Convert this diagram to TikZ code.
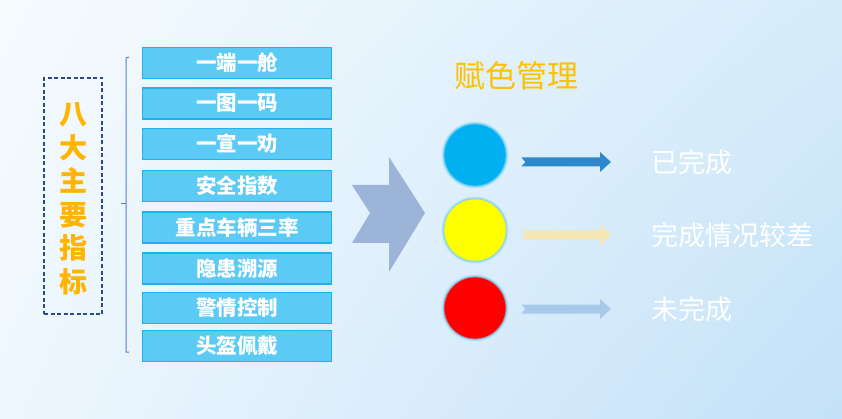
\documentclass[tikz,border=0pt]{standalone}
\usepackage{fontspec}
\setmainfont{Liberation Sans}
\newfontfamily\cjk{Noto Sans CJK SC}
\usetikzlibrary{calc,shadings}
\definecolor{bgTL}{HTML}{F6FBFE}
\definecolor{bgTR}{HTML}{D6ECFA}
\definecolor{bgBL}{HTML}{EEF7FE}
\definecolor{bgBR}{HTML}{C3E1F8}
\definecolor{boxfill}{HTML}{5BCBF5}
\definecolor{boxline}{HTML}{1CB2F0}
\definecolor{bracecol}{HTML}{5A7CC8}
\definecolor{dashcol}{HTML}{2C4A86}
\definecolor{orange}{HTML}{FFB400}
\definecolor{titleor}{HTML}{FFC000}
\definecolor{chev}{HTML}{9BB4D7}
\definecolor{cblue}{HTML}{00B0F0}
\definecolor{cyellow}{HTML}{FFFF00}
\definecolor{cred}{HTML}{FF0000}
\definecolor{glow}{HTML}{7FD3F6}
\definecolor{arblue}{HTML}{2F88CB}
\definecolor{aryellow}{HTML}{F5E6B4}
\definecolor{arlight}{HTML}{A8C9E9}
\tikzset{
  itembox/.style={draw=boxline, line width=1.2pt, fill=boxfill, minimum width=189pt, minimum height=31pt, inner sep=0pt,
    font=\cjk\bfseries\fontsize{20.5}{20.5}\selectfont, text=white},
  dot/.style={circle, minimum size=63pt, inner sep=0pt},
  lbl/.style={anchor=west, font=\cjk\fontsize{27}{27}\selectfont, text=white, inner sep=0pt},
}
\begin{document}
\begin{tikzpicture}[x=1pt,y=-1pt]
\useasboundingbox (0,0) rectangle (842,419);
\shade[upper left=bgTL, upper right=bgTR, lower left=bgBL, lower right=bgBR] (0,0) rectangle (842,419);

% left dashed box with vertical title
\node[draw=dashcol, dashed, dash pattern=on 4pt off 2.5pt, line width=1.3pt, minimum width=58pt, minimum height=236pt, inner sep=0pt] (main) at (73,196) {};
\node[text=orange, font=\cjk\bfseries\fontsize{28}{33.5}\selectfont, align=center, inner sep=0pt] (maintext) at (73,199) {八\\大\\主\\要\\指\\标};

% brace
\coordinate (bt) at (129,57);
\coordinate (bb) at (129,352);
\coordinate (bm) at (121,204);
\draw[bracecol, line width=1pt] (bt) -- ++(-3,1) |- (bb);
\draw[bracecol, line width=1pt] (126,204) -- (bm);

% item boxes
\node[itembox] (i1) at (237,63) {一端一舱};
\node[itembox] (i2) at (237,103.5) {一图一码};
\node[itembox] (i3) at (237,144) {一宣一劝};
\node[itembox] (i4) at (237,186) {安全指数};
\node[itembox] (i5) at (237,227.5) {重点车辆三率};
\node[itembox] (i6) at (237,268.5) {隐患溯源};
\node[itembox] (i7) at (237,308) {警情控制};
\node[itembox] (i8) at (237,346) {头盔佩戴};

% big chevron
\fill[chev] (352,185) -- (389,185) -- (389,157) -- (425,213) -- (389,272) -- (389,243) -- (352,243) -- (370,213) -- cycle;

% title
\node[text=titleor, font=\cjk\fontsize{31}{31}\selectfont, inner sep=0pt] (title) at (516,76) {赋色管理};

% circles
\foreach \n/\y/\c in {c1/155/cblue, c2/230/cyellow, c3/308/cred}{
  \node[dot, draw=glow, draw opacity=0.3, line width=4pt] at (475,\y) {};
  \node[dot, draw=glow, draw opacity=0.7, line width=1.8pt, fill=\c] (\n) at (475,\y) {};
}

% labels
\node[lbl] (l1) at (651,162) {已完成};
\node[lbl] (l2) at (651,235) {完成情况较差};
\node[lbl] (l3) at (651,309) {未完成};

% arrows (notched tail, from circle to label)
\foreach \c/\l/\col in {c1/l1/arblue, c2/l2/aryellow, c3/l3/arlight}{
  \coordinate (s) at ($(\c.east)+(14,0)$);
  \coordinate (e) at ($(\l.west)+(-40,0)$);
  \path let \p1=(s), \p2=(e) in
    coordinate (S) at (\x1,\y2);
  \fill[\col] ($(S)+(0,-4.5)$) -- ($(e)+(-11,-4.5)$) -- ($(e)+(-11,-10)$) -- (e) -- ($(e)+(-11,10)$) -- ($(e)+(-11,4.5)$) -- ($(S)+(0,4.5)$) -- ($(S)+(4,0)$) -- cycle;
}
\end{tikzpicture}
\end{document}
